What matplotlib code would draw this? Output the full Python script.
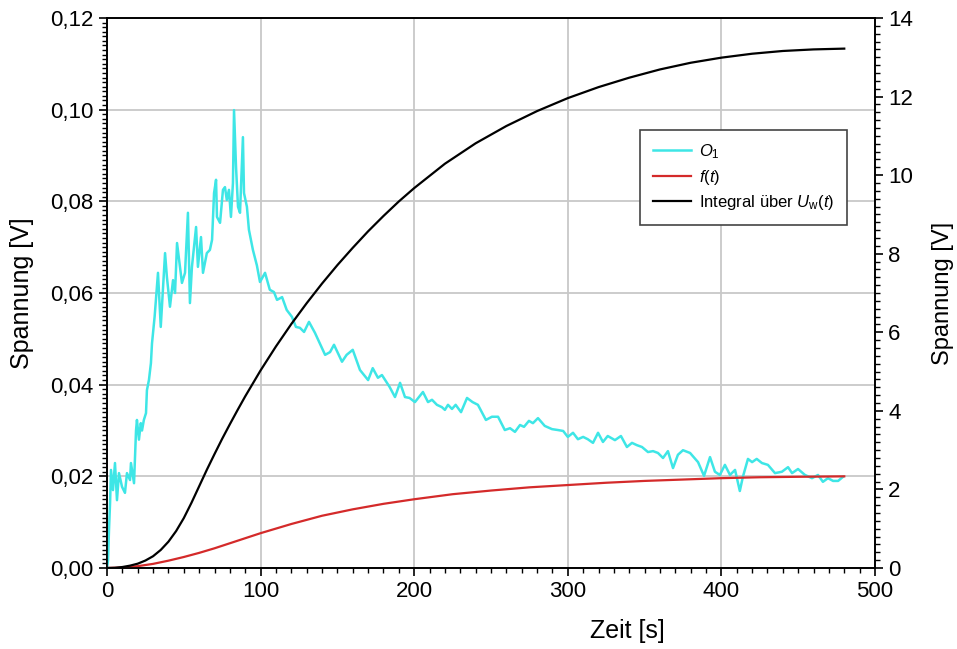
import numpy as np
import matplotlib
matplotlib.use('Agg')
import matplotlib.pyplot as plt
from matplotlib.ticker import MultipleLocator, FuncFormatter
from matplotlib.lines import Line2D

plt.rcParams['font.family'] = ['Liberation Sans', 'DejaVu Sans']
plt.rcParams['mathtext.fontset'] = 'custom'
plt.rcParams['mathtext.rm'] = 'Liberation Sans'
plt.rcParams['mathtext.it'] = 'Liberation Sans:italic'

# O1 signal (left axis)
t_o1 = [0, 0.7, 1.3, 2.0, 2.6, 3.9, 5.2, 6.5, 7.8, 9.8, 11.7, 13.0, 15.0, 15.6, 17.6,
        18.9, 19.5, 20.8, 22.0, 22.8, 24.0, 25.4, 26.0, 27.3, 28.6, 29.3, 31.0, 33.2,
        35.0, 36.5, 37.8, 39.0, 41.0, 43.0, 44.3, 45.6, 47.5, 48.8, 50.8, 52.7, 54.0,
        55.3, 58.0, 59.2, 61.2, 62.5, 65.0, 67.0, 68.4, 69.7, 71.0, 71.6, 73.6, 75.5,
        76.8, 78.0, 79.4, 80.7, 82.0, 82.7, 84.0, 85.3, 86.6, 88.5, 89.2, 91.1, 92.4,
        95.0, 97.6, 99.6, 102.9, 106.0, 108.7, 110.7, 114.0, 117.0, 120.4, 123.0,
        125.6, 128.3, 131.5, 135.4, 142.0, 145.2, 147.8, 153.0, 156.0, 160.0, 164.7,
        170.0, 173.0, 176.4, 179.0, 184.0, 187.5, 190.8, 194.0, 197.0, 200.5, 205.7,
        209.0, 211.6, 214.8, 218.0, 220.0, 222.0, 224.6, 227.0, 230.5, 234.4, 238.0,
        241.5, 246.7, 250.6, 254.6, 259.0, 262.4, 265.6, 268.9, 271.5, 274.7, 277.3,
        280.6, 285.0, 289.7, 293.6, 297.0, 300.0, 303.4, 306.6, 310.0, 313.0, 316.4,
        319.7, 322.9, 326.0, 330.7, 334.6, 338.5, 341.8, 345.0, 348.3, 352.2, 355.5,
        358.7, 362.0, 365.2, 368.5, 371.7, 375.0, 379.6, 384.8, 388.7, 392.6, 395.8,
        399.0, 402.3, 405.6, 408.9, 412.0, 414.0, 417.3, 420.0, 423.0, 426.4, 430.3,
        434.9, 439.4, 443.4, 446.0, 449.9, 454.4, 459.0, 462.9, 466.1, 469.4, 472.7,
        476.0, 479.2]
o1 = [0.0, 0.0017, 0.0083, 0.0142, 0.0214, 0.0170, 0.0229, 0.0148, 0.0207, 0.0177,
      0.0164, 0.0207, 0.0192, 0.0229, 0.0185, 0.0300, 0.0323, 0.0280, 0.0316, 0.0300,
      0.0323, 0.0338, 0.0388, 0.0410, 0.0447, 0.0490, 0.0548, 0.0644, 0.0526, 0.0613,
      0.0687, 0.0635, 0.0570, 0.0628, 0.0600, 0.0709, 0.0657, 0.0622, 0.0644, 0.0775,
      0.0578, 0.0657, 0.0744, 0.0657, 0.0722, 0.0644, 0.0687, 0.0694, 0.0716, 0.0818,
      0.0847, 0.0766, 0.0753, 0.0825, 0.0831, 0.0803, 0.0825, 0.0766, 0.0840, 0.0999,
      0.0875, 0.0788, 0.0775, 0.0940, 0.0818, 0.0788, 0.0738, 0.0694, 0.0660, 0.0624,
      0.0644, 0.0607, 0.0602, 0.0585, 0.0591, 0.0563, 0.0548, 0.0526, 0.0524, 0.0515,
      0.0537, 0.0513, 0.0465, 0.0471, 0.0487, 0.0450, 0.0465, 0.0476, 0.0432, 0.0410,
      0.0436, 0.0415, 0.0421, 0.0395, 0.0373, 0.0404, 0.0373, 0.0371, 0.0362, 0.0384,
      0.0362, 0.0367, 0.0356, 0.0351, 0.0345, 0.0356, 0.0347, 0.0356, 0.0340, 0.0371,
      0.0362, 0.0356, 0.0323, 0.0330, 0.0330, 0.0301, 0.0305, 0.0297, 0.0312, 0.0308,
      0.0321, 0.0316, 0.0327, 0.0310, 0.0303, 0.0301, 0.0299, 0.0286, 0.0295, 0.0281,
      0.0286, 0.0281, 0.0273, 0.0295, 0.0275, 0.0288, 0.0279, 0.0288, 0.0264, 0.0273,
      0.0268, 0.0264, 0.0253, 0.0255, 0.0251, 0.0240, 0.0255, 0.0218, 0.0247, 0.0257,
      0.0251, 0.0231, 0.0201, 0.0242, 0.0210, 0.0203, 0.0225, 0.0203, 0.0214, 0.0168,
      0.0199, 0.0238, 0.0231, 0.0238, 0.0229, 0.0225, 0.0207, 0.0210, 0.0220, 0.0207,
      0.0216, 0.0203, 0.0196, 0.0203, 0.0188, 0.0196, 0.0190, 0.0190, 0.0199]

# f(t) (left axis)
t_f = [0, 10, 20, 30, 40, 50, 60, 70, 80, 90, 100, 110, 120, 130, 140, 150, 160, 170,
       180, 190, 200, 225, 250, 275, 300, 325, 350, 375, 400, 425, 450, 480]
f_t = [0.0, 0.0001, 0.0004, 0.0009, 0.0016, 0.0024, 0.0033, 0.0043, 0.0054, 0.0065,
       0.0076, 0.0086, 0.0096, 0.0105, 0.0114, 0.0121, 0.0128, 0.0134, 0.0140,
       0.0145, 0.0150, 0.0161, 0.0169, 0.0176, 0.0181, 0.0186, 0.0190, 0.0193,
       0.0196, 0.0198, 0.0199, 0.0200]

# Integral ueber Uw(t) (right axis)
t_int = [0, 5, 10, 15, 20, 25, 30, 35, 40, 45, 50, 55, 60, 65, 70, 75, 80, 85, 90,
         100, 110, 120, 130, 140, 150, 160, 170, 180, 190, 200, 220, 240, 260, 280,
         300, 320, 340, 360, 380, 400, 420, 440, 460, 480]
integral = [0.0, 0.005, 0.025, 0.06, 0.11, 0.19, 0.3, 0.46, 0.67, 0.94, 1.27, 1.66,
            2.08, 2.5, 2.9, 3.29, 3.66, 4.02, 4.37, 5.03, 5.64, 6.21, 6.74, 7.24,
            7.71, 8.15, 8.57, 8.96, 9.33, 9.67, 10.29, 10.81, 11.25, 11.63, 11.96,
            12.24, 12.48, 12.69, 12.86, 12.99, 13.09, 13.16, 13.2, 13.22]

fig = plt.figure(figsize=(9.57, 6.49), dpi=100)
ax = fig.add_axes([0.1118, 0.1248, 0.8025, 0.8475])
ax2 = ax.twinx()

ax.plot(t_o1, o1, color='#3ee6e6', lw=1.8, zorder=3)
ax.plot(t_f, f_t, color='#d42a2a', lw=1.6, zorder=3)
ax2.plot(t_int, integral, color='black', lw=1.6)

ax.set_xlim(0, 500)
ax.set_ylim(0, 0.12)
ax2.set_ylim(0, 14)

ax.xaxis.set_major_locator(MultipleLocator(100))
ax.xaxis.set_minor_locator(MultipleLocator(10))
ax.yaxis.set_major_locator(MultipleLocator(0.02))
ax.yaxis.set_minor_locator(MultipleLocator(0.001))
ax2.yaxis.set_major_locator(MultipleLocator(2))
ax2.yaxis.set_minor_locator(MultipleLocator(0.2))
ax.yaxis.set_major_formatter(FuncFormatter(lambda v, p: f'{v:.2f}'.replace('.', ',')))

ax.grid(True, which='major', color='#c8c8c8', lw=1.3)
ax.set_axisbelow(True)

for a in (ax, ax2):
    a.tick_params(which='major', direction='out', length=6, width=1.2, labelsize=16)
    a.tick_params(which='minor', direction='out', length=3.5, width=1.0)
    for s in a.spines.values():
        s.set_linewidth(1.2)

ax.set_xlabel('Zeit [s]', fontsize=18)
ax.xaxis.set_label_coords(0.677, -0.093)
ax.set_ylabel('Spannung [V]', fontsize=18, labelpad=12)
ax2.set_ylabel('Spannung [V]', fontsize=17, labelpad=14)

handles = [Line2D([], [], color='#3ee6e6', lw=1.8),
           Line2D([], [], color='#d42a2a', lw=1.6),
           Line2D([], [], color='black', lw=1.6)]
labels = [r'$O_1$', r'$f(t)$', r'Integral über $U_\mathrm{w}(t)$']
leg = ax2.legend(handles, labels, loc='upper left', bbox_to_anchor=(0.6688, 0.80),
                 bbox_transform=fig.transFigure, fontsize=12, fancybox=False,
                 framealpha=1, edgecolor='#444444', handlelength=2.3,
                 handletextpad=0.5, labelspacing=0.4, borderpad=0.75,
                 borderaxespad=0)
leg.get_frame().set_linewidth(1.2)

fig.savefig('out.png', dpi=100)
